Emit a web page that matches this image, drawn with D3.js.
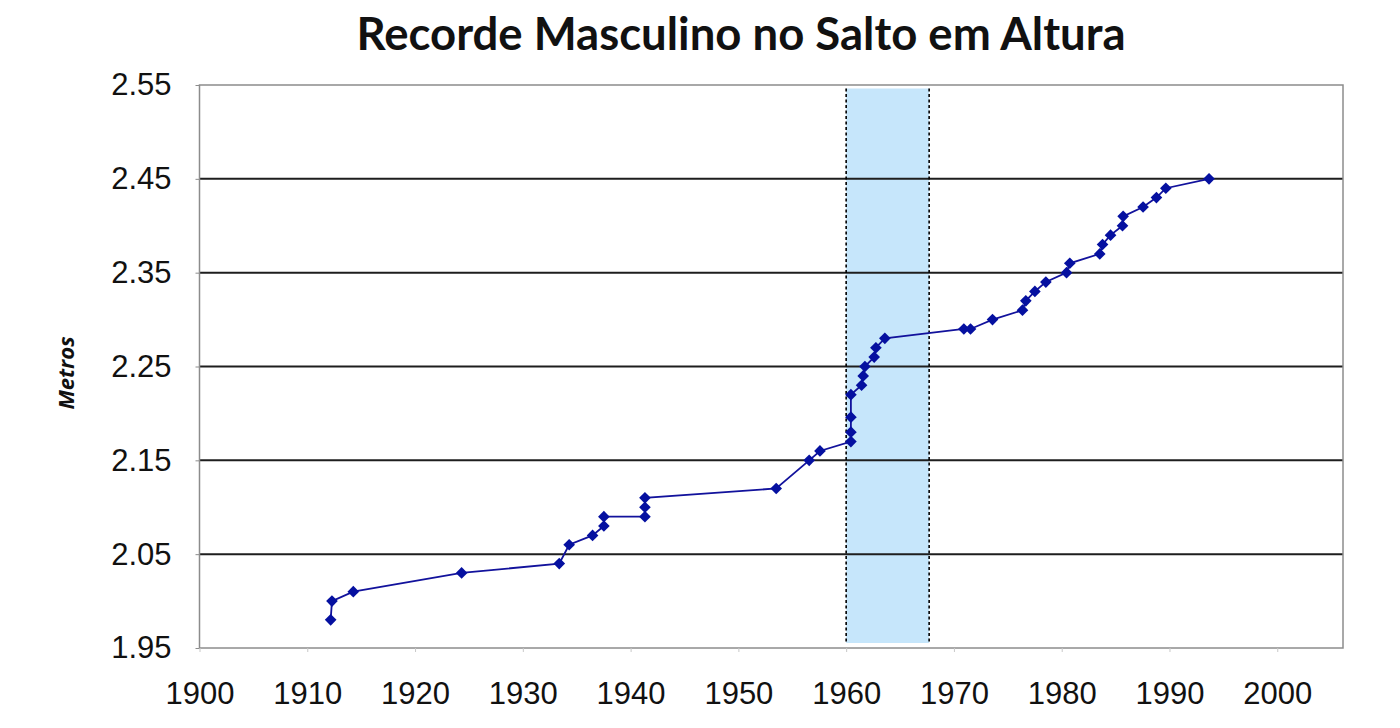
<!DOCTYPE html>
<html>
<head>
<meta charset="utf-8">
<script src="https://cdn.jsdelivr.net/npm/d3@7"></script>
<style>
  html, body { margin: 0; padding: 0; background: #ffffff; }
  svg { display: block; }
</style>
</head>
<body>
<svg id="chart" width="1400" height="728"></svg>
<script>
// ---- Data ----
const years = [
  1912.17, 1912.29, 1914.27, 1924.32, 1933.38, 1934.30, 1936.47, 1937.52, 1937.52,
  1941.33, 1941.33, 1941.33, 1953.51, 1956.57, 1957.57,
  1960.44, 1960.44, 1960.44, 1960.44, 1961.43, 1961.58, 1961.74, 1962.60, 1962.76, 1963.59,
  1970.92, 1971.54, 1973.58, 1976.36, 1976.67, 1977.51, 1978.53, 1980.45, 1980.75,
  1983.53, 1983.79, 1984.53, 1985.64, 1985.70, 1987.55, 1988.79, 1989.66, 1993.67
];
const heights = [
  1.98, 2.00, 2.01, 2.03, 2.04, 2.06, 2.07, 2.08, 2.09,
  2.09, 2.10, 2.11, 2.12, 2.15, 2.16,
  2.17, 2.18, 2.196, 2.22, 2.23, 2.24, 2.25, 2.26, 2.27, 2.28,
  2.29, 2.29, 2.30, 2.31, 2.32, 2.33, 2.34, 2.35, 2.36,
  2.37, 2.38, 2.39, 2.40, 2.41, 2.42, 2.43, 2.44, 2.45
];
const yTicks = [1.95, 2.05, 2.15, 2.25, 2.35, 2.45, 2.55];
const xTicks = [1900, 1910, 1920, 1930, 1940, 1950, 1960, 1970, 1980, 1990, 2000];
const xDomain = [1900, 2006.1];
const yDomain = [1.95, 2.55];
const bandYears = [1960, 1967.7];
const titleText = "Recorde Masculino no Salto em Altura";
const yAxisTitle = "Metros";

// ---- Layout ----
const M = { left: 199.5, right: 1343, top: 85, bottom: 648 };
const svg = d3.select("#chart");

const x = d3.scaleLinear().domain(xDomain).range([M.left, M.right]);
const y = d3.scaleLinear().domain(yDomain).range([M.bottom, M.top]);

// Title
svg.append("text")
  .attr("x", 741).attr("y", 50)
  .attr("text-anchor", "middle")
  .style("font-family", "Lato, 'Open Sans', sans-serif")
  .style("font-weight", 700)
  .style("font-size", "45.5px")
  .style("fill", "#111")
  .text(titleText);

// Highlight band
svg.append("rect")
  .attr("x", x(bandYears[0]))
  .attr("y", M.top + 3.5)
  .attr("width", x(bandYears[1]) - x(bandYears[0]))
  .attr("height", (M.bottom - 5) - (M.top + 3.5))
  .style("fill", "#c6e6fb");

// Gridlines
svg.append("g").selectAll("line")
  .data(yTicks.filter(t => t > yDomain[0] + 1e-9 && t < yDomain[1] - 1e-9))
  .join("line")
  .attr("x1", M.left).attr("x2", M.right)
  .attr("y1", d => y(d)).attr("y2", d => y(d))
  .style("stroke", "#1e1e1e")
  .style("stroke-width", 2);

// Plot border
svg.append("rect")
  .attr("x", M.left).attr("y", M.top)
  .attr("width", M.right - M.left).attr("height", M.bottom - M.top)
  .style("fill", "none")
  .style("stroke", "#8c8c8c")
  .style("stroke-width", 1.5);

// Dotted band edges
svg.append("g").selectAll("line")
  .data(bandYears)
  .join("line")
  .attr("x1", d => x(d)).attr("x2", d => x(d))
  .attr("y1", M.top + 3.5).attr("y2", M.bottom - 5)
  .style("stroke", "#000")
  .style("stroke-width", 1.6)
  .style("stroke-dasharray", "3,2.5");

// Y axis
const yAxis = d3.axisLeft(y).tickValues(yTicks).tickFormat(d3.format(".2f")).tickSize(4).tickPadding(24);
const gy = svg.append("g").attr("transform", `translate(${M.left},0)`).call(yAxis);
gy.select(".domain").remove();
gy.selectAll(".tick line").style("stroke", "#8c8c8c");
gy.selectAll(".tick text")
  .style("font-family", "'Liberation Sans', Arial, sans-serif")
  .style("font-size", "31px")
  .style("fill", "#111");

// X axis
const xAxis = d3.axisBottom(x).tickValues(xTicks).tickFormat(d3.format("d")).tickSize(4).tickPadding(30);
const gx = svg.append("g").attr("transform", `translate(0,${M.bottom})`).call(xAxis);
gx.select(".domain").remove();
gx.selectAll(".tick line").style("stroke", "#c8c8c8");
gx.selectAll(".tick text")
  .style("font-family", "'Liberation Sans', Arial, sans-serif")
  .style("font-size", "31px")
  .style("fill", "#111");

// Y axis title
svg.append("text")
  .attr("transform", "translate(74,373) rotate(-90)")
  .attr("text-anchor", "middle")
  .style("font-family", "'Open Sans', sans-serif")
  .style("font-weight", 700)
  .style("font-style", "italic")
  .style("font-size", "22px")
  .style("fill", "#111")
  .text(yAxisTitle);

// Series
const pts = years.map((yr, i) => [yr, heights[i]]);
const line = d3.line().x(d => x(d[0])).y(d => y(d[1]));
svg.append("path")
  .datum(pts)
  .attr("d", line)
  .style("fill", "none")
  .style("stroke", "#12129c")
  .style("stroke-width", 1.8);

const diamond = d3.symbol().type(d3.symbolSquare).size(68);
svg.append("g").selectAll("path")
  .data(pts)
  .join("path")
  .attr("d", diamond)
  .attr("transform", d => `translate(${x(d[0])},${y(d[1])}) rotate(45)`)
  .style("fill", "#0510a0");
</script>
</body>
</html>
